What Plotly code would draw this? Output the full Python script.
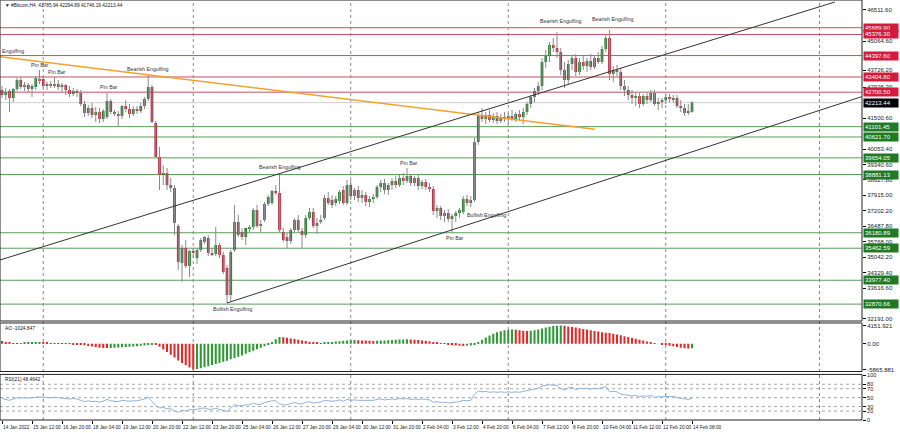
import plotly.graph_objects as go

# ---------------- data (4h bars, #Bitcoin) ----------------
open_ = [42801, 42569, 42754, 42430, 42847, 43265, 42940, 43033, 42847, 42940,
         43311, 43311, 42986, 43079, 42986, 43079, 42940, 43033, 42801, 42615,
         42754, 42662, 42151, 41734, 41966, 41641, 41780, 41456, 41548, 42291,
         41780, 41688, 41595, 42059, 41920, 41688, 41920, 41827, 42059, 42383,
         42940, 41270, 39693, 38858, 38951, 38395, 38256, 36493, 34777, 35472,
         34638, 35333, 35009, 35380, 35750, 35936, 35240, 35194, 35611, 35148,
         34545, 33293, 35380, 36678, 36214, 35983, 36353, 36446, 37235, 36493,
         36771, 37513, 37560, 38116, 38024, 36214, 35983, 35797, 36307, 36771,
         36261, 36075, 36864, 37142, 36493, 36678, 36864, 37792, 37699, 37560,
         37653, 38163, 37560, 38395, 37885, 38163, 37792, 37931, 37606, 37745,
         37838, 38302, 38487, 38163, 38395, 38580, 38395, 38719, 38580, 38812,
         38487, 38719, 38348, 38534, 38302, 38209, 37189, 37328, 36957, 37096,
         36818, 36957, 37096, 37142, 37745, 37560, 37699, 40389, 41595, 41456,
         41641, 41409, 41595, 41363, 41548, 41502, 41595, 41456, 41688, 41548,
         41780, 42151, 42476, 42754, 42986, 44099, 44378, 44888, 44749, 44563,
         43728, 43265, 44007, 44285, 43636, 44099, 43914, 44146, 43868, 44285,
         44099, 44702, 45213, 43543, 43728, 43636, 42986, 42801, 42569, 42430,
         42522, 42151, 42522, 42337, 42662, 42151, 42244, 42337, 42476, 42383,
         42430, 42059, 41966, 41734, 41785.94]
high = [42986, 42894, 42847, 42894, 43357, 43404, 43172, 43125, 43079, 43450,
        43728, 43450, 43172, 43218, 43404, 43265, 43125, 43079, 42986, 42894,
        42847, 42801, 42291, 42105, 42198, 42012, 41966, 41920, 42662, 42383,
        41873, 41827, 42105, 42337, 42151, 42059, 42059, 42198, 42476, 43497,
        43033, 41363, 40157, 39322, 39183, 38719, 38395, 36586, 35611, 35843,
        35380, 35472, 35472, 35936, 36029, 36075, 35472, 36446, 35704, 35287,
        34684, 35380, 37467, 37003, 36400, 36307, 36539, 37328, 37467, 36771,
        37606, 37931, 38163, 38395, 38951, 36400, 36168, 36400, 36864, 37003,
        36400, 37003, 37328, 37328, 36864, 37003, 37931, 38070, 37931, 37885,
        38163, 38348, 38627, 38627, 38256, 38348, 38163, 38070, 37885, 37977,
        38395, 38627, 38673, 38487, 38719, 38812, 38858, 38951, 39183, 38905,
        38812, 38858, 38627, 38673, 38487, 38348, 37467, 37421, 37235, 37281,
        37050, 37189, 37328, 37885, 37931, 37885, 40575, 41780, 41966, 41780,
        41873, 41734, 41780, 41688, 41780, 41734, 41873, 41780, 41873, 41966,
        42244, 42569, 42894, 43172, 44285, 44656, 45027, 45213, 45491, 44749,
        44099, 44192, 44424, 44470, 44285, 44378, 44285, 44470, 44424, 44563,
        44842, 45398, 45584, 43914, 43960, 43821, 43265, 42986, 42801, 42708,
        42662, 42615, 42708, 42801, 42801, 42430, 42430, 42569, 42615, 42569,
        42569, 42337, 42151, 42151, 42294.89]
low = [42430, 42337, 41780, 42244, 42754, 42847, 42754, 42708, 42476, 42801,
       43079, 42894, 42801, 42894, 42894, 42801, 42708, 42569, 42476, 42522,
       42476, 42059, 41548, 41595, 41502, 41316, 41270, 41316, 41456, 41688,
       41595, 41085, 41456, 41780, 41502, 41595, 41688, 41734, 41920, 42291,
       41270, 39647, 38163, 38395, 38163, 38070, 36075, 34452, 33896, 34545,
       34128, 35009, 34731, 35287, 35658, 35101, 35101, 35101, 35009, 34267,
       32922, 33015, 35287, 35983, 35843, 35611, 36214, 36307, 36400, 36214,
       36678, 37421, 37467, 37931, 36214, 35750, 35472, 35658, 36214, 36214,
       35472, 35936, 36771, 36400, 36122, 36586, 36771, 37467, 37328, 37421,
       37513, 37467, 37467, 37699, 37699, 37606, 37560, 37421, 37374, 37560,
       37745, 38070, 37977, 37931, 38163, 38256, 38302, 38395, 38487, 38348,
       38348, 38163, 38209, 38163, 38070, 37003, 36864, 36771, 36678, 36678,
       36214, 36678, 36864, 37050, 37421, 37374, 37606, 40250, 41316, 41224,
       41316, 41270, 41224, 41270, 41316, 41224, 41363, 41316, 41409, 41224,
       41641, 41966, 42244, 42569, 42801, 43821, 44099, 44563, 44285, 43497,
       42894, 43079, 43728, 43450, 43497, 43728, 43636, 43728, 43775, 44007,
       44007, 44563, 43265, 43172, 43450, 42801, 42522, 42337, 42151, 42059,
       41966, 42059, 42151, 42244, 42059, 41873, 41966, 42151, 42244, 42198,
       41966, 41780, 41595, 41641, 41746.19]
close_ = [42569, 42708, 42430, 42847, 43265, 42940, 43033, 42847, 42986, 43357,
          43218, 42986, 43079, 42986, 43079, 42940, 43033, 42801, 42615, 42754,
          42662, 42151, 41734, 41966, 41641, 41780, 41456, 41827, 42291, 41780,
          41688, 41595, 42059, 41920, 41688, 41920, 41827, 42059, 42383, 42940,
          41316, 39693, 38858, 38951, 38395, 38256, 36632, 34823, 35472, 34638,
          35333, 35240, 35380, 35843, 35983, 35240, 35194, 35611, 35148, 34359,
          33293, 35287, 36678, 36075, 35983, 36400, 36446, 37235, 36493, 36586,
          37513, 37838, 38116, 38024, 36307, 35843, 35797, 36307, 36771, 36307,
          36075, 36864, 37142, 36493, 36632, 36771, 37792, 37560, 37467, 37745,
          38070, 37560, 38395, 37885, 38163, 37792, 37931, 37606, 37745, 37838,
          38302, 38487, 38163, 38395, 38580, 38395, 38719, 38580, 38812, 38487,
          38719, 38348, 38534, 38302, 38209, 37189, 37328, 36957, 37096, 36818,
          36957, 37096, 37235, 37745, 37560, 37699, 40389, 41595, 41456, 41641,
          41409, 41595, 41363, 41548, 41502, 41595, 41456, 41688, 41548, 41780,
          42151, 42476, 42754, 42986, 44099, 44378, 44888, 44749, 44563, 43728,
          43265, 44007, 44285, 43636, 44099, 43914, 44146, 43868, 44285, 44099,
          44702, 45213, 43543, 43728, 43636, 42986, 42801, 42569, 42430, 42522,
          42151, 42522, 42337, 42662, 42151, 42244, 42337, 42476, 42383, 42430,
          42059, 41966, 41734, 41785.94, 42213.44]

ao = [600, 400, 200, 100, 80, 120, 180, 250, 300, 350, 380, 300,
      200, 120, 60, 30, 20, -20, -60, -100, -150,
      -200, -350, -500, -650, -780, -900, -980, -1000,
      -950, -900, -850, -800, -750, -700, -620, -550, -470, -380, -280, -150,
      -250, -700, -1300, -1900, -2500, -3100, -3800, -4400, -4900, -5400, -5865.881,
      -5750, -5550, -5350, -5100, -4850, -4600, -4350, -4100, -3850, -3550, -3250,
      -2950, -2650, -2300, -1950, -1600, -1250, -900, -550, -200, 400, 1000, 1500,
      1450, 1350, 1200, 1050, 900, 750, 600, 450, 350, 250, 150,
      200, 300, 400, 500, 580, 650, 720, 780, 820,
      790, 750, 700, 650, 620,
      650, 700, 750, 800, 850, 900, 940, 980, 1000,
      960, 900, 830, 750, 660, 550, 400, 250, 100, -50, -200, -330, -420, -480, -520,
      -480, -380, -100, 400, 900, 1400, 1850, 2250, 2600, 2850, 3050, 3150, 3200,
      3150, 3050, 2950, 2900,
      2950, 3050, 3200, 3450, 3650, 3850, 4000, 4100, 4151.921,
      4050, 3900, 3800, 3650, 3500, 3350, 3200, 3050, 2900, 2750, 2600, 2500, 2400,
      2250, 2100, 1900, 1700, 1500, 1300, 1100, 900, 700, 500, 300, 150, 0, -150,
      -300, -450, -600, -750, -900, -1050,
      -1100, -1024.847]

rsi = [48, 46, 44, 47, 50, 49, 50, 49, 50, 52,
       52, 51, 50, 50, 51, 50, 50, 48, 47, 48,
       47, 44, 41, 43, 41, 42, 40, 42, 46, 43,
       42, 41, 44, 43, 42, 43, 43, 45, 47, 51,
       42, 32, 27, 28, 25, 25, 20, 17, 22, 20,
       23, 23, 24, 26, 27, 24, 24, 26, 24, 22,
       19, 27, 35, 32, 32, 34, 34, 38, 35, 35,
       39, 41, 43, 43, 36, 34, 34, 37, 39, 37,
       36, 40, 41, 38, 39, 40, 44, 43, 42, 43,
       45, 42, 46, 44, 45, 44, 44, 43, 44, 44,
       46, 47, 45, 46, 47, 46, 48, 47, 48, 46,
       47, 46, 47, 46, 45, 40, 41, 39, 40, 38,
       39, 40, 41, 44, 43, 44, 58, 65, 63, 64,
       62, 63, 62, 63, 62, 63, 62, 63, 62, 64,
       66, 68, 70, 71, 76, 77, 79, 78, 77, 71,
       67, 72, 73, 68, 71, 70, 71, 69, 71, 70,
       73, 75, 63, 64, 63, 58, 57, 55, 54, 55,
       52, 54, 53, 55, 51, 52, 52, 53, 53, 53,
       50, 49, 47, 46, 48.4642]

time_labels = ["14 Jan 2022", "15 Jan 12:00", "16 Jan 20:00", "18 Jan 04:00", "19 Jan 12:00",
               "20 Jan 20:00", "22 Jan 12:00", "23 Jan 20:00", "25 Jan 04:00", "26 Jan 12:00",
               "27 Jan 20:00", "29 Jan 04:00", "30 Jan 12:00", "31 Jan 20:00", "2 Feb 04:00",
               "3 Feb 12:00", "4 Feb 20:00", "6 Feb 04:00", "7 Feb 12:00", "8 Feb 20:00",
               "10 Feb 04:00", "11 Feb 12:00", "12 Feb 20:00", "14 Feb 08:00"]
label_step = 8
week_grid = [11, 51, 93, 135, 177, 218]

price_ticks = [46511.60, 45064.60, 43726.20, 42926.20, 41500.60, 40053.40, 39340.60,
               38627.80, 37915.00, 37202.20, 36487.80, 35768.00, 35042.20, 34329.40,
               33616.60, 32191.00]
resistance = [45689.90, 45376.30, 44397.60, 43404.80, 42700.50]
support = [41101.45, 40621.70, 39654.05, 38881.13, 36180.89, 35462.59, 33977.40, 32870.66]

orange_trend = [(-0.53, 44346), (158.1, 40978)]
channel_upper = [(-0.53, 34917), (222.1, 46882)]
channel_lower = [(60, 32922), (229.3, 42495)]

# (bar index, text, side, yshift px, xshift px)
patterns = [(10, "Pin Bar", "above", 0, 0), (14, "Pin Bar", "above", 0, 2),
            (28, "Pin Bar", "above", 1, 2), (39, "Bearish Engulfing", "above", 1, 0),
            (61, "Bullish Engulfing", "below", -3, 2), (74, "Bearish Engulfing", "above", 1, 0),
            (108, "Pin Bar", "above", 0, 2), (120, "Pin Bar", "below", -1, 3),
            (126, "Bullish Engulfing", "below", -8, 12), (148, "Bearish Engulfing", "above", 6, 4),
            (162, "Bearish Engulfing", "above", 6, 3)]

ao_range = [-6300, 4700]
ao_ticks = [4151.921, 0.0, -5865.881]
rsi_ticks = [100, 80, 70, 50, 30, 20, 0]
rsi_levels = [80, 70, 50, 30, 20]
x_range = [-0.533, 229.33]
price_range = [32087, 46975]

# ---------------- figure ----------------
n = min(len(open_), len(high), len(low), len(close_), len(ao), len(rsi))
idx = list(range(n))
BULL, BEAR = "#23792b", "#b2263c"
FONT = "Liberation Sans"

fig = go.Figure()

# wicks
wx, wy = [], []
for i in idx:
    wx += [i, i, None]
    wy += [low[i], high[i], None]
fig.add_trace(go.Scatter(x=wx, y=wy, mode="lines", line=dict(color="#8a8a8a", width=1),
                         hoverinfo="skip", showlegend=False, xaxis="x", yaxis="y"))
# bodies
base = [min(open_[i], close_[i]) for i in idx]
hgt = [max(abs(close_[i] - open_[i]), 25) for i in idx]
col = [BULL if close_[i] >= open_[i] else BEAR for i in idx]
fig.add_trace(go.Bar(x=idx, y=hgt, base=base, marker=dict(color=col, line=dict(width=0)),
                     width=0.72, showlegend=False, xaxis="x", yaxis="y"))

# AO
ao_col = [("#2e9a35" if (i > 0 and ao[i] > ao[i - 1]) else "#dc2b2b") for i in idx]
fig.add_trace(go.Bar(x=idx, y=ao[:n], marker=dict(color=ao_col, line=dict(width=0)),
                     width=0.55, showlegend=False, xaxis="x", yaxis="y2"))

# RSI
fig.add_trace(go.Scatter(x=idx, y=rsi[:n], mode="lines", line=dict(color="#8fb3d6", width=1),
                         showlegend=False, xaxis="x", yaxis="y3"))

MAIN_D = [0.2357, 1.0]
AO_D = [0.1155, 0.2310]
RSI_D = [0.0, 0.1085]

tickfont = dict(family=FONT, size=6, color="#222")
fig.update_layout(
    width=900, height=433, margin=dict(l=0, r=38, t=0, b=13, autoexpand=False),
    paper_bgcolor="white", plot_bgcolor="white", barmode="overlay",
    font=dict(family=FONT, size=6, color="#222"), showlegend=False,
    xaxis=dict(range=x_range, anchor="y3", showgrid=False, zeroline=False, showline=False,
               tickvals=[k * label_step for k in range(len(time_labels))], ticktext=[""] * len(time_labels),
               ticks="outside", ticklen=3, tickcolor="#000", fixedrange=True, automargin=False),
    yaxis=dict(domain=MAIN_D, range=price_range, side="right", anchor="x",
               tickvals=price_ticks, ticktext=[f"{v:.2f}" for v in price_ticks],
               ticks="outside", ticklen=3, tickcolor="#000", tickfont=tickfont,
               showgrid=False, zeroline=False, automargin=False),
    yaxis2=dict(domain=AO_D, range=ao_range, side="right", anchor="x",
                tickvals=ao_ticks, ticktext=["4151.921", "0.00", "-5865.881"],
                ticks="outside", ticklen=3, tickcolor="#000", tickfont=tickfont,
                showgrid=False, zeroline=False, automargin=False),
    yaxis3=dict(domain=RSI_D, range=[0, 102], side="right", anchor="x",
                tickvals=rsi_ticks, ticktext=[str(v) for v in rsi_ticks],
                ticks="outside", ticklen=3, tickcolor="#000",
                tickfont=dict(family=FONT, size=5.5, color="#222"),
                showgrid=False, zeroline=False, automargin=False),
)

shapes = []
# weekly dotted grid
for g in week_grid:
    shapes.append(dict(type="line", xref="x", yref="paper", x0=g, x1=g, y0=0, y1=1,
                       line=dict(color="#8c8c8c", width=1, dash="dot"), layer="below"))
# horizontal levels
shapes.append(dict(type="line", xref="x domain", yref="y", x0=0, x1=1, y0=close_[-1], y1=close_[-1],
                   line=dict(color="#cfcfcf", width=1), layer="below"))
for lv in resistance:
    shapes.append(dict(type="line", xref="x domain", yref="y", x0=0, x1=1, y0=lv, y1=lv,
                       line=dict(color="#c4525f", width=1), layer="below"))
for lv in support:
    shapes.append(dict(type="line", xref="x domain", yref="y", x0=0, x1=1, y0=lv, y1=lv,
                       line=dict(color="#5c9d5c", width=1), layer="below"))
for lv in rsi_levels:
    shapes.append(dict(type="line", xref="x domain", yref="y3", x0=0, x1=1, y0=lv, y1=lv,
                       line=dict(color="#a8a8a8", width=1, dash="dot"), layer="below"))
# trend lines
for (p0, p1), c, w in [(orange_trend, "#f0a22e", 1.5), (channel_upper, "#333333", 1),
                       (channel_lower, "#333333", 1)]:
    shapes.append(dict(type="line", xref="x", yref="y", x0=p0[0], y0=p0[1], x1=p1[0], y1=p1[1],
                       line=dict(color=c, width=w)))
# panel frames
for d in (MAIN_D, AO_D, RSI_D):
    shapes.append(dict(type="rect", xref="paper", yref="paper", x0=0, x1=1, y0=d[0], y1=d[1],
                       line=dict(color="#222", width=1), fillcolor="rgba(0,0,0,0)"))
fig.update_layout(shapes=shapes)

ann = []
# time labels (left aligned at tick, MT4 style)
for k, t in enumerate(time_labels):
    ann.append(dict(x=k * label_step, y=0, xref="x", yref="paper", text=t, showarrow=False,
                    xanchor="left", yanchor="top", yshift=-3, xshift=-1,
                    font=dict(family=FONT, size=4.8, color="#222")))
# price boxes
def box(v, bg):
    return dict(x=1, y=v, xref="paper", yref="y", text=f"{v:.2f}", showarrow=False,
                xanchor="left", yanchor="middle", xshift=1, bgcolor=bg, borderpad=1,
                width=32, align="left", font=dict(family=FONT, size=6, color="white"))
for lv in resistance:
    ann.append(box(lv, "#d41b3c"))
for lv in support:
    ann.append(box(lv, "#1e7a23"))
ann.append(box(close_[-1], "#000000"))
# pattern labels
pfont = dict(family=FONT, size=5.3, color="#333")
for i, txt, side, ys, xs in patterns:
    if side == "above":
        ann.append(dict(x=i, y=high[i], xref="x", yref="y", text=txt, showarrow=False,
                        yanchor="bottom", yshift=ys, xshift=xs, font=pfont))
    else:
        ann.append(dict(x=i, y=low[i], xref="x", yref="y", text=txt, showarrow=False,
                        yanchor="top", yshift=ys, xshift=xs, font=pfont))
# partly hidden label at left edge (only its tail is on screen)
ann.append(dict(x=0, y=orange_trend[0][1], xref="paper", yref="y",
                text="Engulfing", showarrow=False, xanchor="left", yanchor="bottom",
                xshift=0, yshift=1, font=pfont))
# header texts
ann.append(dict(x=0, y=1, xref="paper", yref="paper", showarrow=False, xanchor="left", yanchor="top",
                xshift=3, yshift=-1,
                text=f"▼ #Bitcoin,H4  {open_[-1]:.2f} {high[-1]:.2f} {low[-1]:.2f} {close_[-1]:.2f}",
                font=dict(family=FONT, size=4.8, color="#111")))
ann.append(dict(x=0, y=AO_D[1], xref="paper", yref="paper", showarrow=False, xanchor="left",
                yanchor="top", xshift=3, yshift=-1, text=f"AO {ao[-1]:.3f}",
                font=dict(family=FONT, size=4.8, color="#111")))
ann.append(dict(x=0, y=RSI_D[1], xref="paper", yref="paper", showarrow=False, xanchor="left",
                yanchor="top", xshift=3, yshift=-1, text=f"RSI(21) {rsi[-1]:.4f}",
                font=dict(family=FONT, size=4.8, color="#111")))
fig.update_layout(annotations=ann)

fig.write_html("out.html", config={"displayModeBar": False},
               post_script="document.body.style.margin='0px';document.body.style.overflow='hidden';")
